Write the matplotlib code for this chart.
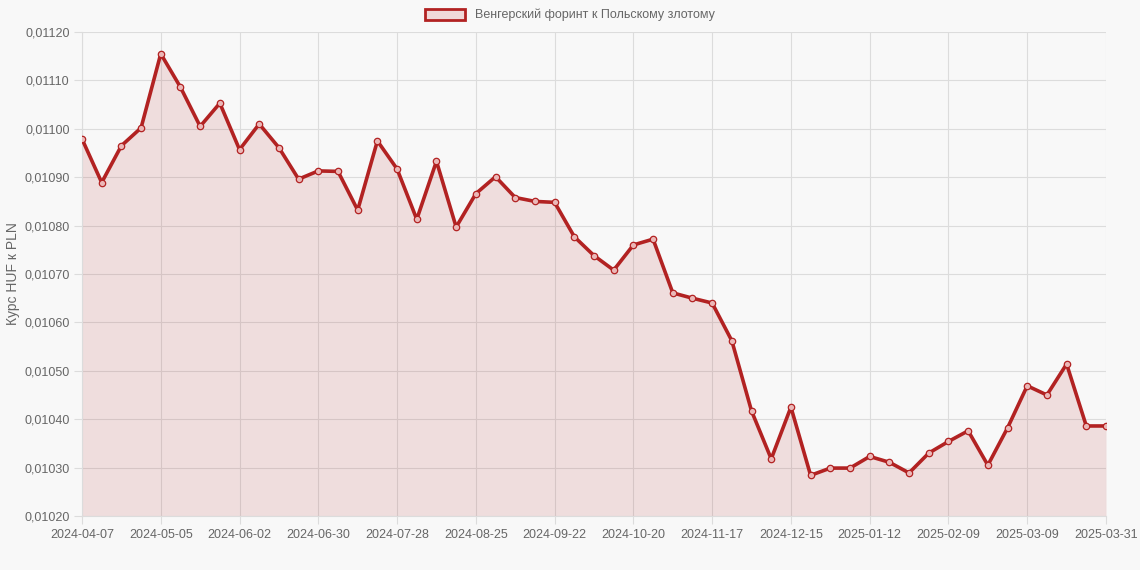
import matplotlib.pyplot as plt
import numpy as np
from matplotlib.patches import Patch
from matplotlib.ticker import FuncFormatter

plt.rcParams['font.family'] = ['Liberation Sans', 'DejaVu Sans']

# Недельные даты (последняя точка - 2025-03-31)
dates = ['2024-04-07', '2024-04-14', '2024-04-21', '2024-04-28', '2024-05-05', '2024-05-12',
         '2024-05-19', '2024-05-26', '2024-06-02', '2024-06-09', '2024-06-16', '2024-06-23',
         '2024-06-30', '2024-07-07', '2024-07-14', '2024-07-21', '2024-07-28', '2024-08-04',
         '2024-08-11', '2024-08-18', '2024-08-25', '2024-09-01', '2024-09-08', '2024-09-15',
         '2024-09-22', '2024-09-29', '2024-10-06', '2024-10-13', '2024-10-20', '2024-10-27',
         '2024-11-03', '2024-11-10', '2024-11-17', '2024-11-24', '2024-12-01', '2024-12-08',
         '2024-12-15', '2024-12-22', '2024-12-29', '2025-01-05', '2025-01-12', '2025-01-19',
         '2025-01-26', '2025-02-02', '2025-02-09', '2025-02-16', '2025-02-23', '2025-03-02',
         '2025-03-09', '2025-03-16', '2025-03-23', '2025-03-30', '2025-03-31']

kurs = [0.010979, 0.010889, 0.010965, 0.011002, 0.011155, 0.011086, 0.011005, 0.011053,
        0.010957, 0.011010, 0.010961, 0.010896, 0.010913, 0.010912, 0.010832, 0.010975,
        0.010917, 0.010813, 0.010933, 0.010797, 0.010866, 0.010901, 0.010858, 0.010850,
        0.010848, 0.010777, 0.010738, 0.010708, 0.010760, 0.010772, 0.010661, 0.010650,
        0.010640, 0.010562, 0.010417, 0.010318, 0.010425, 0.010284, 0.010299, 0.010299,
        0.010323, 0.010311, 0.010289, 0.010330, 0.010354, 0.010376, 0.010305, 0.010382,
        0.010469, 0.010450, 0.010514, 0.010386, 0.010386]

y_ticks = [0.0102, 0.0103, 0.0104, 0.0105, 0.0106, 0.0107, 0.0108, 0.0109, 0.0110, 0.0111, 0.0112]

line_color = '#b22222'
fill_color = (178/255, 34/255, 34/255, 0.12)
bg = '#f8f8f8'
grid_color = '#dcdcdc'
text_color = '#666666'

fig = plt.figure(figsize=(11.4, 5.7), dpi=100, facecolor=bg)
ax = fig.add_axes([82/1140, 1 - 516/570, (1106 - 82)/1140, (516 - 32)/570])
ax.set_facecolor(bg)

x = np.arange(len(dates))
ax.fill_between(x, kurs, 0.0102, color=fill_color, linewidth=0, zorder=2)
ax.plot(x, kurs, color=line_color, linewidth=2.6, zorder=3,
        marker='o', markersize=4.6, markerfacecolor=(0.92, 0.72, 0.72, 1), markeredgecolor=line_color,
        markeredgewidth=0.9)

ax.set_xlim(0, len(dates) - 1)
ax.set_ylim(0.0102, 0.0112)

# подписи оси X: каждая 4-я дата и последняя
tick_idx = list(range(0, len(dates) - 1, 4)) + [len(dates) - 1]
ax.set_xticks(tick_idx)
ax.set_xticklabels([dates[i] for i in tick_idx])
ax.set_yticks(y_ticks)
ax.yaxis.set_major_formatter(FuncFormatter(lambda v, p: f'{v:.5f}'.replace('.', ',')))

ax.grid(True, color=grid_color, linewidth=0.8, zorder=1)
ax.set_axisbelow(True)
ax.tick_params(axis='both', colors=grid_color, labelcolor=text_color, labelsize=9, length=6, width=0.8)
ax.tick_params(axis='x', pad=3)
ax.tick_params(axis='y', pad=3)
for s in ax.spines.values():
    s.set_visible(False)
ax.spines['left'].set_visible(True)
ax.spines['left'].set_color(grid_color)
ax.spines['bottom'].set_visible(True)
ax.spines['bottom'].set_color(grid_color)

ax.set_ylabel('Курс HUF к PLN', color=text_color, fontsize=10, labelpad=3)

handle = Patch(facecolor=(0.94, 0.85, 0.85), edgecolor=line_color, linewidth=2)
fig.legend(handles=[handle], labels=['Венгерский форинт к Польскому злотому'],
           loc='center', bbox_to_anchor=(0.5, 1 - 15/570), frameon=False,
           fontsize=9, labelcolor=text_color, handlelength=3.2, handleheight=1.0, handletextpad=0.8)

plt.savefig('out.png', dpi=100, facecolor=bg)
